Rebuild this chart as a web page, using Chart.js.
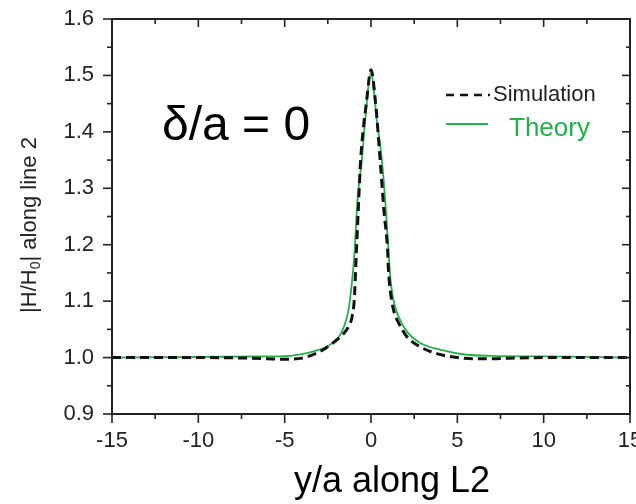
<!DOCTYPE html>
<html>
<head>
<meta charset="utf-8">
<script src="https://cdn.jsdelivr.net/npm/chart.js@4/dist/chart.umd.min.js"></script>
<style>
html, body { margin: 0; padding: 0; background: #fff; }
#wrap { width: 636px; height: 504px; }
</style>
</head>
<body>
<div id="wrap"><canvas id="chart" width="636" height="504"></canvas></div>
<script>
// values
const simX = [-15, -10, -7, -6, -5, -4, -3, -2.2, -1.6, -1.3, -1.1, -0.97, -0.86, -0.71, -0.6, -0.25, 0, 0.25, 0.53, 0.75, 0.96, 1.01, 1.11, 1.3, 1.59, 2.08, 2.85, 3.8, 5, 6, 7, 8, 10, 15];
const simY = [1.0, 1.0, 0.999, 0.998, 0.997, 0.999, 1.010, 1.026, 1.042, 1.055, 1.072, 1.102, 1.178, 1.28, 1.35, 1.456, 1.51, 1.456, 1.35, 1.26, 1.191, 1.155, 1.12, 1.085, 1.062, 1.037, 1.019, 1.007, 1.0, 0.998, 0.998, 0.999, 1.0, 1.0];

const theoryX = [-15, -10, -6, -5.25, -4, -3.33, -2.36, -1.69, -1.3, -1.11, -0.97, -0.78, -0.53, -0.34, 0, 0.34, 0.63, 0.82, 1.01, 1.11, 1.3, 1.59, 2.08, 2.85, 4, 5.55, 7, 10, 15];
const theoryY = [1.0, 1.001, 1.002, 1.002, 1.006, 1.011, 1.023, 1.046, 1.085, 1.132, 1.179, 1.28, 1.35, 1.42, 1.504, 1.42, 1.35, 1.28, 1.191, 1.144, 1.102, 1.073, 1.046, 1.026, 1.014, 1.005, 1.003, 1.002, 1.0];

const seriesNames = ['Simulation', 'Theory'];
const xTickValues = [-15, -10, -5, 0, 5, 10, 15];
const xMinorValues = [-12.5, -7.5, -2.5, 2.5, 7.5, 12.5];
const yTickValues = [0.9, 1.0, 1.1, 1.2, 1.3, 1.4, 1.5, 1.6];
const yMinorValues = [0.95, 1.05, 1.15, 1.25, 1.35, 1.45, 1.55];
const caseLabel = 'δ/a = 0';
const xTitle = 'y/a along L2';

const FONT = "'Liberation Sans', Arial, sans-serif";
const INK = '#222';
const GREEN = '#22b04b';

function toPoints(xs, ys) {
    return xs.map((x, i) => ({ x: x, y: ys[i] }));
}

// frame on top/right, tick marks, legend, labels
const decorPlugin = {
    id: 'decor',
    afterDraw(chart) {
        const { ctx, chartArea: a, scales } = chart;
        const xs = scales.x, ys = scales.y;
        ctx.save();
        ctx.strokeStyle = INK;
        ctx.lineWidth = 2;
        ctx.beginPath();
        ctx.moveTo(a.left, a.top);
        ctx.lineTo(a.right, a.top);
        ctx.lineTo(a.right, a.bottom);
        ctx.stroke();

        ctx.lineWidth = 1.6;
        const seg = (x1, y1, x2, y2) => {
            ctx.beginPath(); ctx.moveTo(x1, y1); ctx.lineTo(x2, y2); ctx.stroke();
        };
        xTickValues.forEach(v => {
            const p = xs.getPixelForValue(v);
            seg(p, a.bottom, p, a.bottom + 9);
            seg(p, a.top, p, a.top + 8);
        });
        xMinorValues.forEach(v => {
            const p = xs.getPixelForValue(v);
            seg(p, a.bottom, p, a.bottom + 5);
            seg(p, a.top, p, a.top + 5);
        });
        yTickValues.forEach(v => {
            const p = ys.getPixelForValue(v);
            seg(a.left - 9, p, a.left, p);
            seg(a.right - 8, p, a.right, p);
        });
        yMinorValues.forEach(v => {
            const p = ys.getPixelForValue(v);
            seg(a.left - 5, p, a.left, p);
            seg(a.right - 4, p, a.right, p);
        });

        // legend
        ctx.lineWidth = 2.6;
        ctx.strokeStyle = '#111';
        ctx.setLineDash([8, 6]);
        seg(446, 95, 490, 95);
        ctx.setLineDash([]);
        ctx.lineWidth = 2;
        ctx.strokeStyle = GREEN;
        seg(446, 124, 488, 124);

        ctx.textBaseline = 'middle';
        ctx.textAlign = 'left';
        ctx.fillStyle = INK;
        ctx.font = '22px ' + FONT;
        ctx.fillText(seriesNames[0], 493, 95);
        ctx.fillStyle = GREEN;
        ctx.font = '26px ' + FONT;
        ctx.fillText(seriesNames[1], 509, 129);

        // case label
        ctx.fillStyle = '#000';
        ctx.font = '48px ' + FONT;
        ctx.textBaseline = 'alphabetic';
        ctx.fillText(caseLabel, 162, 140);

        // x axis title
        ctx.font = '36px ' + FONT;
        ctx.textAlign = 'center';
        ctx.fillText(xTitle, 392, 492);

        // y axis title with subscript
        ctx.textAlign = 'left';
        ctx.translate(30, 225);
        ctx.rotate(-Math.PI / 2);
        ctx.fillStyle = INK;
        ctx.textBaseline = 'middle';
        const big = '22px ' + FONT, small = '14px ' + FONT;
        const parts = [['|H/H', big, 0], ['0', small, 6], ['| along line 2', big, 0]];
        let total = 0;
        parts.forEach(p => { ctx.font = p[1]; total += ctx.measureText(p[0]).width; });
        let cx = -total / 2;
        parts.forEach(p => {
            ctx.font = p[1];
            ctx.fillText(p[0], cx, p[2]);
            cx += ctx.measureText(p[0]).width;
        });
        ctx.restore();
    }
};

function drawChart() {
    const ctx = document.getElementById('chart').getContext('2d');
    window._chart = new Chart(ctx, {
        type: 'line',
        data: {
            datasets: [{
                label: seriesNames[0],
                data: toPoints(simX, simY),
                borderColor: '#111',
                borderWidth: 3,
                borderDash: [9, 5],
                pointRadius: 0,
                fill: false,
                cubicInterpolationMode: 'monotone'
            }, {
                label: seriesNames[1],
                data: toPoints(theoryX, theoryY),
                borderColor: GREEN,
                borderWidth: 1.8,
                pointRadius: 0,
                fill: false,
                cubicInterpolationMode: 'monotone'
            }]
        },
        options: {
            responsive: false,
            animation: false,
            devicePixelRatio: 1,
            layout: { autoPadding: false, padding: { top: 19, right: 6, left: 0, bottom: 0 } },
            plugins: { legend: { display: false }, tooltip: { enabled: false } },
            scales: {
                x: {
                    type: 'linear',
                    min: -15, max: 15,
                    afterFit: s => { s.height = 90; s.paddingLeft = 0; s.paddingRight = 0; },
                    afterBuildTicks: s => { s.ticks = xTickValues.map(v => ({ value: v })); },
                    grid: { display: false },
                    border: { display: true, color: INK, width: 2 },
                    ticks: { color: INK, padding: 6, maxRotation: 0, font: { family: FONT, size: 22 } }
                },
                y: {
                    type: 'linear',
                    min: 0.9, max: 1.6,
                    afterFit: s => { s.width = 112; s.paddingTop = 0; s.paddingBottom = 0; },
                    afterBuildTicks: s => { s.ticks = yTickValues.map(v => ({ value: v })); },
                    grid: { display: false },
                    border: { display: true, color: INK, width: 2 },
                    ticks: { color: INK, padding: 10, font: { family: FONT, size: 22 }, callback: v => v.toFixed(1) }
                }
            }
        },
        plugins: [decorPlugin]
    });
}

window.addEventListener('load', drawChart);
</script>
</body>
</html>
